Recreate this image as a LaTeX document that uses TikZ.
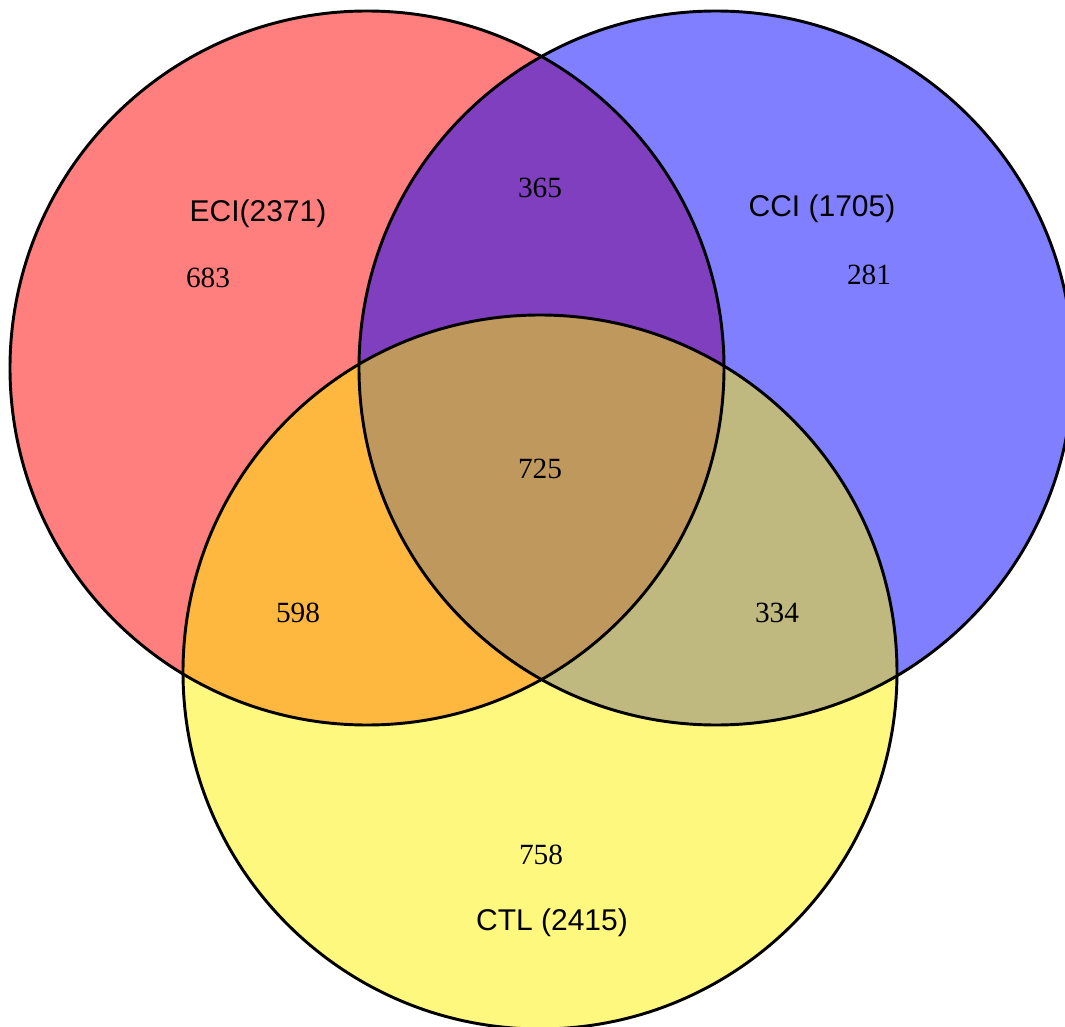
\documentclass[tikz,border=0pt]{standalone}
\usepackage{fontspec}
\setmainfont{Liberation Serif}
\newfontfamily\setfont{Liberation Sans}
\usepackage{tikz}
\usetikzlibrary{positioning}

\tikzset{
  setlabel/.style={anchor=base, font=\setfont\fontsize{22.5}{27}\selectfont},
  count/.style={anchor=base, font=\fontsize{22}{26}\selectfont},
  ring/.style={black, line width=2.2pt}
}

\begin{document}
\begin{tikzpicture}[x=0.75pt, y=-0.75pt]

\useasboundingbox (0,0) rectangle (1065,1027);
\clip (0,0) rectangle (1065,1027);

% filled sets
\fill[red, fill opacity=0.5] (367,368) circle [radius=267.75pt];
\fill[blue, fill opacity=0.5] (716,368) circle [radius=267.75pt];
\fill[yellow, fill opacity=0.5] (540,672) circle [radius=267.75pt];

% outlines
{
\draw[ring] (367,368) circle [radius=267.75pt];
\draw[ring] (716,368) circle [radius=267.75pt];
\draw[ring] (540,672) circle [radius=267.75pt];
}

\node[setlabel] (eci) at (258,222) {ECI(2371)};
\node[setlabel] (cci) at (822,217) {CCI (1705)};
\node[setlabel] (ctl) at (552,930) {CTL (2415)};

\node[count] (eonly) at (208,288) {683};
\node[count] (conly) at (869,285) {281};
\node[count] (tonly) at (541,864) {758};
\node[count] (ec) at (540,198) {365};
\node[count] (et) at (298,622) {598};
\node[count] (ct) at (777,622) {334};
\node[count] (all) at (540,478) {725};

\end{tikzpicture}
\end{document}
